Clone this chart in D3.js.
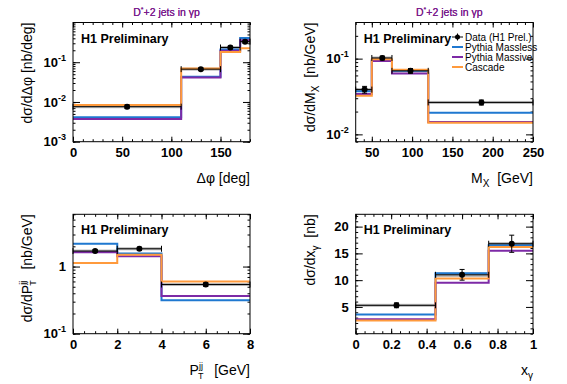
<!DOCTYPE html>
<html><head><meta charset="utf-8">
<script src="https://cdn.jsdelivr.net/npm/d3@7"></script>
<style>
body{margin:0;background:#fff}
text{font-family:'Liberation Sans',Arial,Helvetica,sans-serif}
</style>
</head><body>
<svg id="c" width="567" height="384"></svg>
<script>
// ---------- data ----------
const panelTitle = "jets in γp";
const modelNames = ["Pythia Massless", "Pythia Massive", "Cascade"];
const dataName = "Data (H1 Prel.)";

// Panel 1: delta phi
const phiEdges = [0, 110, 150, 170, 180];
const phiCenters = [55, 130, 160, 175];
const phiData = [0.0076, 0.067, 0.235, 0.33];
const phiStat = [0.0008, 0.005, 0.02, 0.03];
const phiSys = [0.0003, 0.003, 0.012, 0.018];
const phiMassless = [0.0041, 0.043, 0.21, 0.41];
const phiMassive = [0.0037, 0.041, 0.195, 0.36];
const phiCascade = [0.0084, 0.070, 0.182, 0.225];
const phiXTicks = [0, 50, 100, 150];
const phiYTicks = [0.001, 0.01, 0.1];

// Panel 2: M_X
const mxEdges = [30, 50, 75, 120, 250];
const mxCenters = [41, 63, 98, 186];
const mxData = [0.039, 0.102, 0.069, 0.0264];
const mxStat = [0.004, 0.006, 0.005, 0.002];
const mxSys = [0.0015, 0.004, 0.003, 0.0008];
const mxMassless = [0.0372, 0.0955, 0.069, 0.0193];
const mxMassive = [0.034, 0.093, 0.0636, 0.0146];
const mxCascade = [0.0323, 0.098, 0.0715, 0.0142];
const mxXTicks = [50, 100, 150, 200, 250];
const mxYTicks = [0.01, 0.1];

// Panel 3: P_T^jj
const ptEdges = [0, 2, 4, 8];
const ptCenters = [1, 3, 6];
const ptData = [1.70, 1.84, 0.54];
const ptStat = [0.08, 0.10, 0.035];
const ptSys = [0.05, 0.06, 0.018];
const ptMassless = [2.18, 1.57, 0.314];
const ptMassive = [1.64, 1.42, 0.365];
const ptCascade = [1.13, 1.50, 0.60];
const ptXTicks = [0, 2, 4, 6, 8];
const ptYTicks = [0.1, 1];

// Panel 4: x_gamma
const xgEdges = [0, 0.45, 0.75, 1];
const xgCenters = [0.23, 0.6, 0.88];
const xgData = [5.3, 11.0, 16.8];
const xgStat = [0.45, 1.0, 1.6];
const xgSys = [0.25, 0.4, 0.3];
const xgMassless = [3.57, 11.3, 16.5];
const xgMassive = [2.7, 9.5, 15.5];
const xgCascade = [2.45, 10.3, 16.2];
const xgXTicks = [0, 0.2, 0.4, 0.6, 0.8, 1];
const xgYTicks = [5, 10, 15, 20];

const colors = {massless: "#1f78d0", massive: "#7d2aa6", cascade: "#ff9a3c", title: "#7a1a8c"};

const svg = d3.select("#c");
const NB = "\u00a0";

function superLabel(sel, base, exp) {
  sel.text(null);
  sel.append("tspan").text(base);
  if (exp !== null) sel.append("tspan").attr("dy", -6).attr("font-size", 9).text(exp);
}

function drawPanel(cfg) {
  const g = svg.append("g");
  const {x0, x1, y0, y1} = cfg.box;
  const x = d3.scaleLinear().domain(cfg.xDomain).range([x0, x1]);
  const y = (cfg.log ? d3.scaleLog() : d3.scaleLinear()).domain(cfg.yDomain).range([y1, y0]);

  // title
  g.append("text").attr("x", (x0 + x1) / 2 + 5).attr("y", 16).attr("text-anchor", "middle")
    .attr("font-size", 10.5).attr("fill", colors.title)
    .call(t => {
      t.append("tspan").text("D");
      t.append("tspan").attr("dy", -4).attr("font-size", 7).text("*");
      t.append("tspan").attr("dy", 4).text("+2 " + panelTitle);
    });

  // minor ticks
  const xMinor = d3.range(cfg.xDomain[0], cfg.xDomain[1] + 1e-9, cfg.xMinorStep);
  let yMinor;
  if (cfg.log) {
    yMinor = [];
    const lo = Math.floor(Math.log10(cfg.yDomain[0])), hi = Math.ceil(Math.log10(cfg.yDomain[1]));
    for (let e = lo; e <= hi; e++) for (let k = 1; k <= 9; k++) {
      const v = k * Math.pow(10, e);
      if (v >= cfg.yDomain[0] * 0.999 && v <= cfg.yDomain[1]) yMinor.push(v);
    }
  } else {
    yMinor = d3.range(cfg.yDomain[0], cfg.yDomain[1] + 1e-9, cfg.yMinorStep);
  }

  g.append("g").attr("transform", `translate(0,${y1})`)
    .call(d3.axisBottom(x).tickValues(xMinor).tickSize(-2.5).tickFormat(""));
  g.append("g").attr("transform", `translate(0,${y0})`)
    .call(d3.axisTop(x).tickValues(xMinor).tickSize(-2.5).tickFormat(""));
  g.append("g").attr("transform", `translate(${x0},0)`)
    .call(d3.axisLeft(y).tickValues(yMinor).tickSize(-2.5).tickFormat(""));
  g.append("g").attr("transform", `translate(${x1},0)`)
    .call(d3.axisRight(y).tickValues(yMinor).tickSize(-2.5).tickFormat(""));
  // major ticks
  g.append("g").attr("transform", `translate(0,${y1})`)
    .call(d3.axisBottom(x).tickValues(cfg.xTicks).tickSize(-5).tickPadding(6).tickFormat(d3.format("~g")))
    .call(a => a.selectAll("text").attr("font-size", 13).attr("font-weight", "bold").attr("fill", "#000")
      .attr("font-family", "'Liberation Sans',Arial,sans-serif"));
  g.append("g").attr("transform", `translate(0,${y0})`)
    .call(d3.axisTop(x).tickValues(cfg.xTicks).tickSize(-5).tickFormat(""));
  const yMajor = g.append("g").attr("transform", `translate(${x0},0)`)
    .call(d3.axisLeft(y).tickValues(cfg.yTicks).tickSize(-7).tickPadding(7).tickFormat(d3.format("~g")));
  yMajor.selectAll("text").attr("font-size", 13).attr("font-weight", "bold").attr("fill", "#000")
    .attr("font-family", "'Liberation Sans',Arial,sans-serif");
  if (cfg.log) {
    yMajor.selectAll("text").each(function(d) {
      const e = Math.round(Math.log10(d));
      const s = d3.select(this);
      if (e === 0) superLabel(s, "1", null);
      else superLabel(s, "10", String(e));
    });
  }
  g.append("g").attr("transform", `translate(${x1},0)`)
    .call(d3.axisRight(y).tickValues(cfg.yTicks).tickSize(-7).tickFormat(""));
  g.selectAll(".domain").remove();
  g.selectAll(".tick line").attr("stroke", "#000").attr("stroke-width", 1);

  // gray bands (systematic)
  const edges = cfg.edges;
  g.append("g").selectAll("rect").data(cfg.data).join("rect")
    .attr("x", (d, i) => x(edges[i]))
    .attr("width", (d, i) => x(edges[i + 1]) - x(edges[i]))
    .attr("y", (d, i) => Math.min(y(d + cfg.sys[i]), y(d) - 1.5))
    .attr("height", (d, i) => Math.max(y(d - cfg.sys[i]) - y(d + cfg.sys[i]), 3))
    .attr("fill", "#999").attr("opacity", 0.7);

  // model histograms
  const line = d3.line().x(p => x(p[0])).y(p => y(p[1]));
  const stepPts = vals => {
    const pts = [];
    vals.forEach((v, i) => { pts.push([edges[i], v]); pts.push([edges[i + 1], v]); });
    return pts;
  };
  [[cfg.massless, colors.massless], [cfg.massive, colors.massive], [cfg.cascade, colors.cascade]]
    .forEach(([vals, c]) => {
      g.append("path").attr("d", line(stepPts(vals))).attr("fill", "none")
        .attr("stroke", c).attr("stroke-width", 2);
    });

  // data: horizontal bars with end caps, vertical error bars, marker
  const dg = g.append("g").attr("stroke", "#000").attr("stroke-width", 1);
  cfg.data.forEach((v, i) => {
    const yy = y(v);
    dg.append("line").attr("x1", x(edges[i])).attr("x2", x(edges[i + 1])).attr("y1", yy).attr("y2", yy);
    dg.append("line").attr("x1", x(edges[i])).attr("x2", x(edges[i])).attr("y1", yy - 3).attr("y2", yy + 3);
    dg.append("line").attr("x1", x(edges[i + 1])).attr("x2", x(edges[i + 1])).attr("y1", yy - 3).attr("y2", yy + 3);
    const cx = x(cfg.centers[i]);
    dg.append("line").attr("x1", cx).attr("x2", cx)
      .attr("y1", y(v + cfg.stat[i])).attr("y2", y(v - cfg.stat[i]));
    dg.append("line").attr("x1", cx - 2.5).attr("x2", cx + 2.5)
      .attr("y1", y(v + cfg.stat[i])).attr("y2", y(v + cfg.stat[i]));
    dg.append("line").attr("x1", cx - 2.5).attr("x2", cx + 2.5)
      .attr("y1", y(v - cfg.stat[i])).attr("y2", y(v - cfg.stat[i]));
    dg.append("circle").attr("cx", cx).attr("cy", yy).attr("r", 3).attr("fill", "#000").attr("stroke", "none");
  });

  // frame
  g.append("rect").attr("x", x0).attr("y", y0).attr("width", x1 - x0).attr("height", y1 - y0)
    .attr("fill", "none").attr("stroke", "#000").attr("stroke-width", 1);

  // H1 Preliminary
  g.append("text").attr("x", x0 + 8).attr("y", y0 + 20).attr("font-size", 12.5).attr("font-weight", "bold")
    .text("H1 Preliminary");

  // y title
  const yt = g.append("text").attr("transform", `translate(${x0 - 41},${y0}) rotate(-90)`)
    .attr("text-anchor", "end").attr("font-size", 14);
  cfg.yTitle(yt);
  // x title
  const xt = g.append("text").attr("x", x1).attr("y", y1 + 41).attr("text-anchor", "end").attr("font-size", 14);
  cfg.xTitle(xt);
  return {g, x, y};
}

const sub = (t, s) => t.append("tspan").attr("dy", 4).attr("font-size", 10).text(s);
const back = (t, s) => t.append("tspan").attr("dy", -4).text(s);
const ptSym = t => {
  t.append("tspan").text("P");
  t.append("tspan").attr("dy", -6).attr("font-size", 9).text("jj");
  t.append("tspan").attr("dy", 10).attr("dx", -5).attr("font-size", 9).text("T");
};

drawPanel({
  box: {x0: 73, x1: 250, y0: 22.5, y1: 141.7}, xDomain: [0, 180], yDomain: [0.001, 1], log: true,
  xMinorStep: 10, xTicks: phiXTicks, yTicks: phiYTicks,
  edges: phiEdges, centers: phiCenters, data: phiData, stat: phiStat, sys: phiSys,
  massless: phiMassless, massive: phiMassive, cascade: phiCascade,
  yTitle: t => t.text("dσ/dΔφ [nb/deg]"),
  xTitle: t => t.text("Δφ [deg]")
});

drawPanel({
  box: {x0: 355.7, x1: 533, y0: 22.5, y1: 141.7}, xDomain: [30, 250], yDomain: [0.008, 0.3], log: true,
  xMinorStep: 10, xTicks: mxXTicks, yTicks: mxYTicks,
  edges: mxEdges, centers: mxCenters, data: mxData, stat: mxStat, sys: mxSys,
  massless: mxMassless, massive: mxMassive, cascade: mxCascade,
  yTitle: t => { t.append("tspan").text("dσ/dM"); sub(t, "X"); back(t, NB + NB + "[nb/GeV]"); },
  xTitle: t => { t.append("tspan").text("M"); sub(t, "X"); back(t, NB + NB + "[GeV]"); }
});

drawPanel({
  box: {x0: 73, x1: 250, y0: 214.3, y1: 333.7}, xDomain: [0, 8], yDomain: [0.1, 6], log: true,
  xMinorStep: 0.5, xTicks: ptXTicks, yTicks: ptYTicks,
  edges: ptEdges, centers: ptCenters, data: ptData, stat: ptStat, sys: ptSys,
  massless: ptMassless, massive: ptMassive, cascade: ptCascade,
  yTitle: t => {
    t.append("tspan").text("dσ/d");
    ptSym(t);
    t.append("tspan").attr("dy", -4).attr("dx", 3).text(NB + NB + "[nb/GeV]");
  },
  xTitle: t => {
    ptSym(t);
    t.append("tspan").attr("dy", -4).attr("dx", 3).text(NB + NB + "[GeV]");
  }
});

drawPanel({
  box: {x0: 355.7, x1: 533, y0: 214.3, y1: 333.7}, xDomain: [0, 1], yDomain: [0, 22.3], log: false,
  xMinorStep: 0.05, yMinorStep: 1, xTicks: xgXTicks, yTicks: xgYTicks,
  edges: xgEdges, centers: xgCenters, data: xgData, stat: xgStat, sys: xgSys,
  massless: xgMassless, massive: xgMassive, cascade: xgCascade,
  yTitle: t => { t.append("tspan").text("dσ/dx"); sub(t, "γ"); back(t, NB + NB + "[nb]"); },
  xTitle: t => { t.append("tspan").text("x"); sub(t, "γ"); }
});

// legend (in panel 2)
const leg = svg.append("g");
const legX = 452, legY0 = 37, legDy = 10;
const legItems = [dataName].concat(modelNames);
const legColors = ["#000", colors.massless, colors.massive, colors.cascade];
legItems.forEach((name, i) => {
  const yy = legY0 + i * legDy;
  leg.append("line").attr("x1", legX).attr("x2", legX + 11).attr("y1", yy).attr("y2", yy)
    .attr("stroke", legColors[i]).attr("stroke-width", i === 0 ? 1 : 2);
  if (i === 0) {
    leg.append("line").attr("x1", legX + 5.5).attr("x2", legX + 5.5).attr("y1", yy - 3.5).attr("y2", yy + 3.5).attr("stroke", "#000");
    leg.append("circle").attr("cx", legX + 5.5).attr("cy", yy).attr("r", 2.5).attr("fill", "#000");
  }
  leg.append("text").attr("x", legX + 13).attr("y", yy + 3.5).attr("font-size", 10).text(name);
});
</script>
</body></html>
